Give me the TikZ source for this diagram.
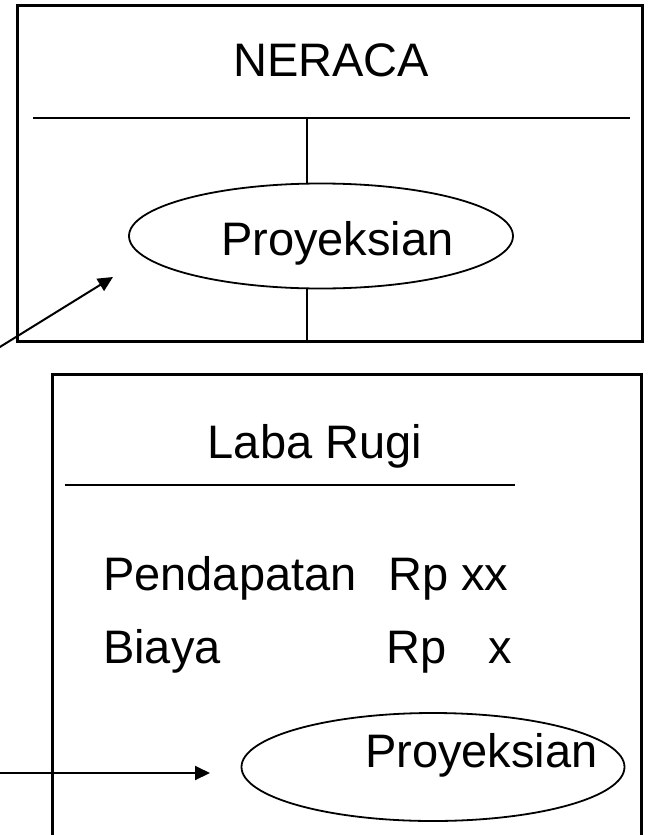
\documentclass[tikz,border=0pt]{standalone}
\usepackage{fontspec}
\setmainfont{Liberation Sans}
\usetikzlibrary{shapes.geometric,arrows.meta}
\begin{document}
\begin{tikzpicture}[x=1pt,y=-1pt,
  frame/.style={line width=3pt},
  rule/.style={line width=2.4pt},
  thin/.style={line width=2pt},
  oval/.style={draw,ellipse,fill=white,line width=1.8pt,inner sep=0pt},
  label/.style={inner sep=0pt,font=\fontsize{47}{56}\selectfont},
  pointer/.style={line width=2pt,-{Triangle[length=15pt,width=14pt]}}]
\useasboundingbox (0,0) rectangle (650,835);
\begin{scope}
\clip (0,0) rectangle (650,835);

% balance sheet frame
\draw[frame] (17,5) rectangle (642,341);
\coordinate (nl) at (33,118);
\coordinate (nr) at (630,118);
\draw[rule] (nl) -- (nr);
\coordinate (vt) at (307,118);
\coordinate (vb) at (307,341);
\draw[thin] (vt) -- (vb);
\node[label,anchor=base] (neraca) at (331,76) {NERACA};
\node[oval,minimum width=384pt,minimum height=105pt] (ell1) at (321,236) {};
\node[label,anchor=base west] (proy1) at (221,255) {Proyeksian};

% income statement frame, open at the bottom
\coordinate (bl) at (52,840);
\coordinate (br) at (641,840);
\draw[frame] (bl) |- (br |- 0,374) -- (br);
\coordinate (ll) at (65,485);
\coordinate (lr) at (515,485);
\draw[rule] (ll) -- (lr);
\node[label,anchor=base] (laba) at (315,458) {Laba Rugi};
\node[label,anchor=base west] (pend) at (103,590) {Pendapatan};
\node[label,anchor=base west] (rp1) at (388,590) {Rp xx};
\node[label,anchor=base west] (biaya) at (103,663) {Biaya};
\node[label,anchor=base west] (rp2) at (386,663) {Rp};
\node[label,anchor=base west] (x2) at (488,663) {x};
\node[oval,minimum width=383pt,minimum height=108pt] (ell2) at (433,767) {};
\node[label,anchor=base west] (proy2) at (365,767) {Proyeksian};

% pointers coming in from the left
\coordinate (a1s) at (-5,350);
\coordinate (a1e) at (113,277);
\draw[pointer] (a1s) -- (a1e);
\coordinate (a2s) at (-5,773);
\coordinate (a2e) at (210,773);
\draw[pointer] (a2s) -- (a2e);
\end{scope}
\end{tikzpicture}
\end{document}
